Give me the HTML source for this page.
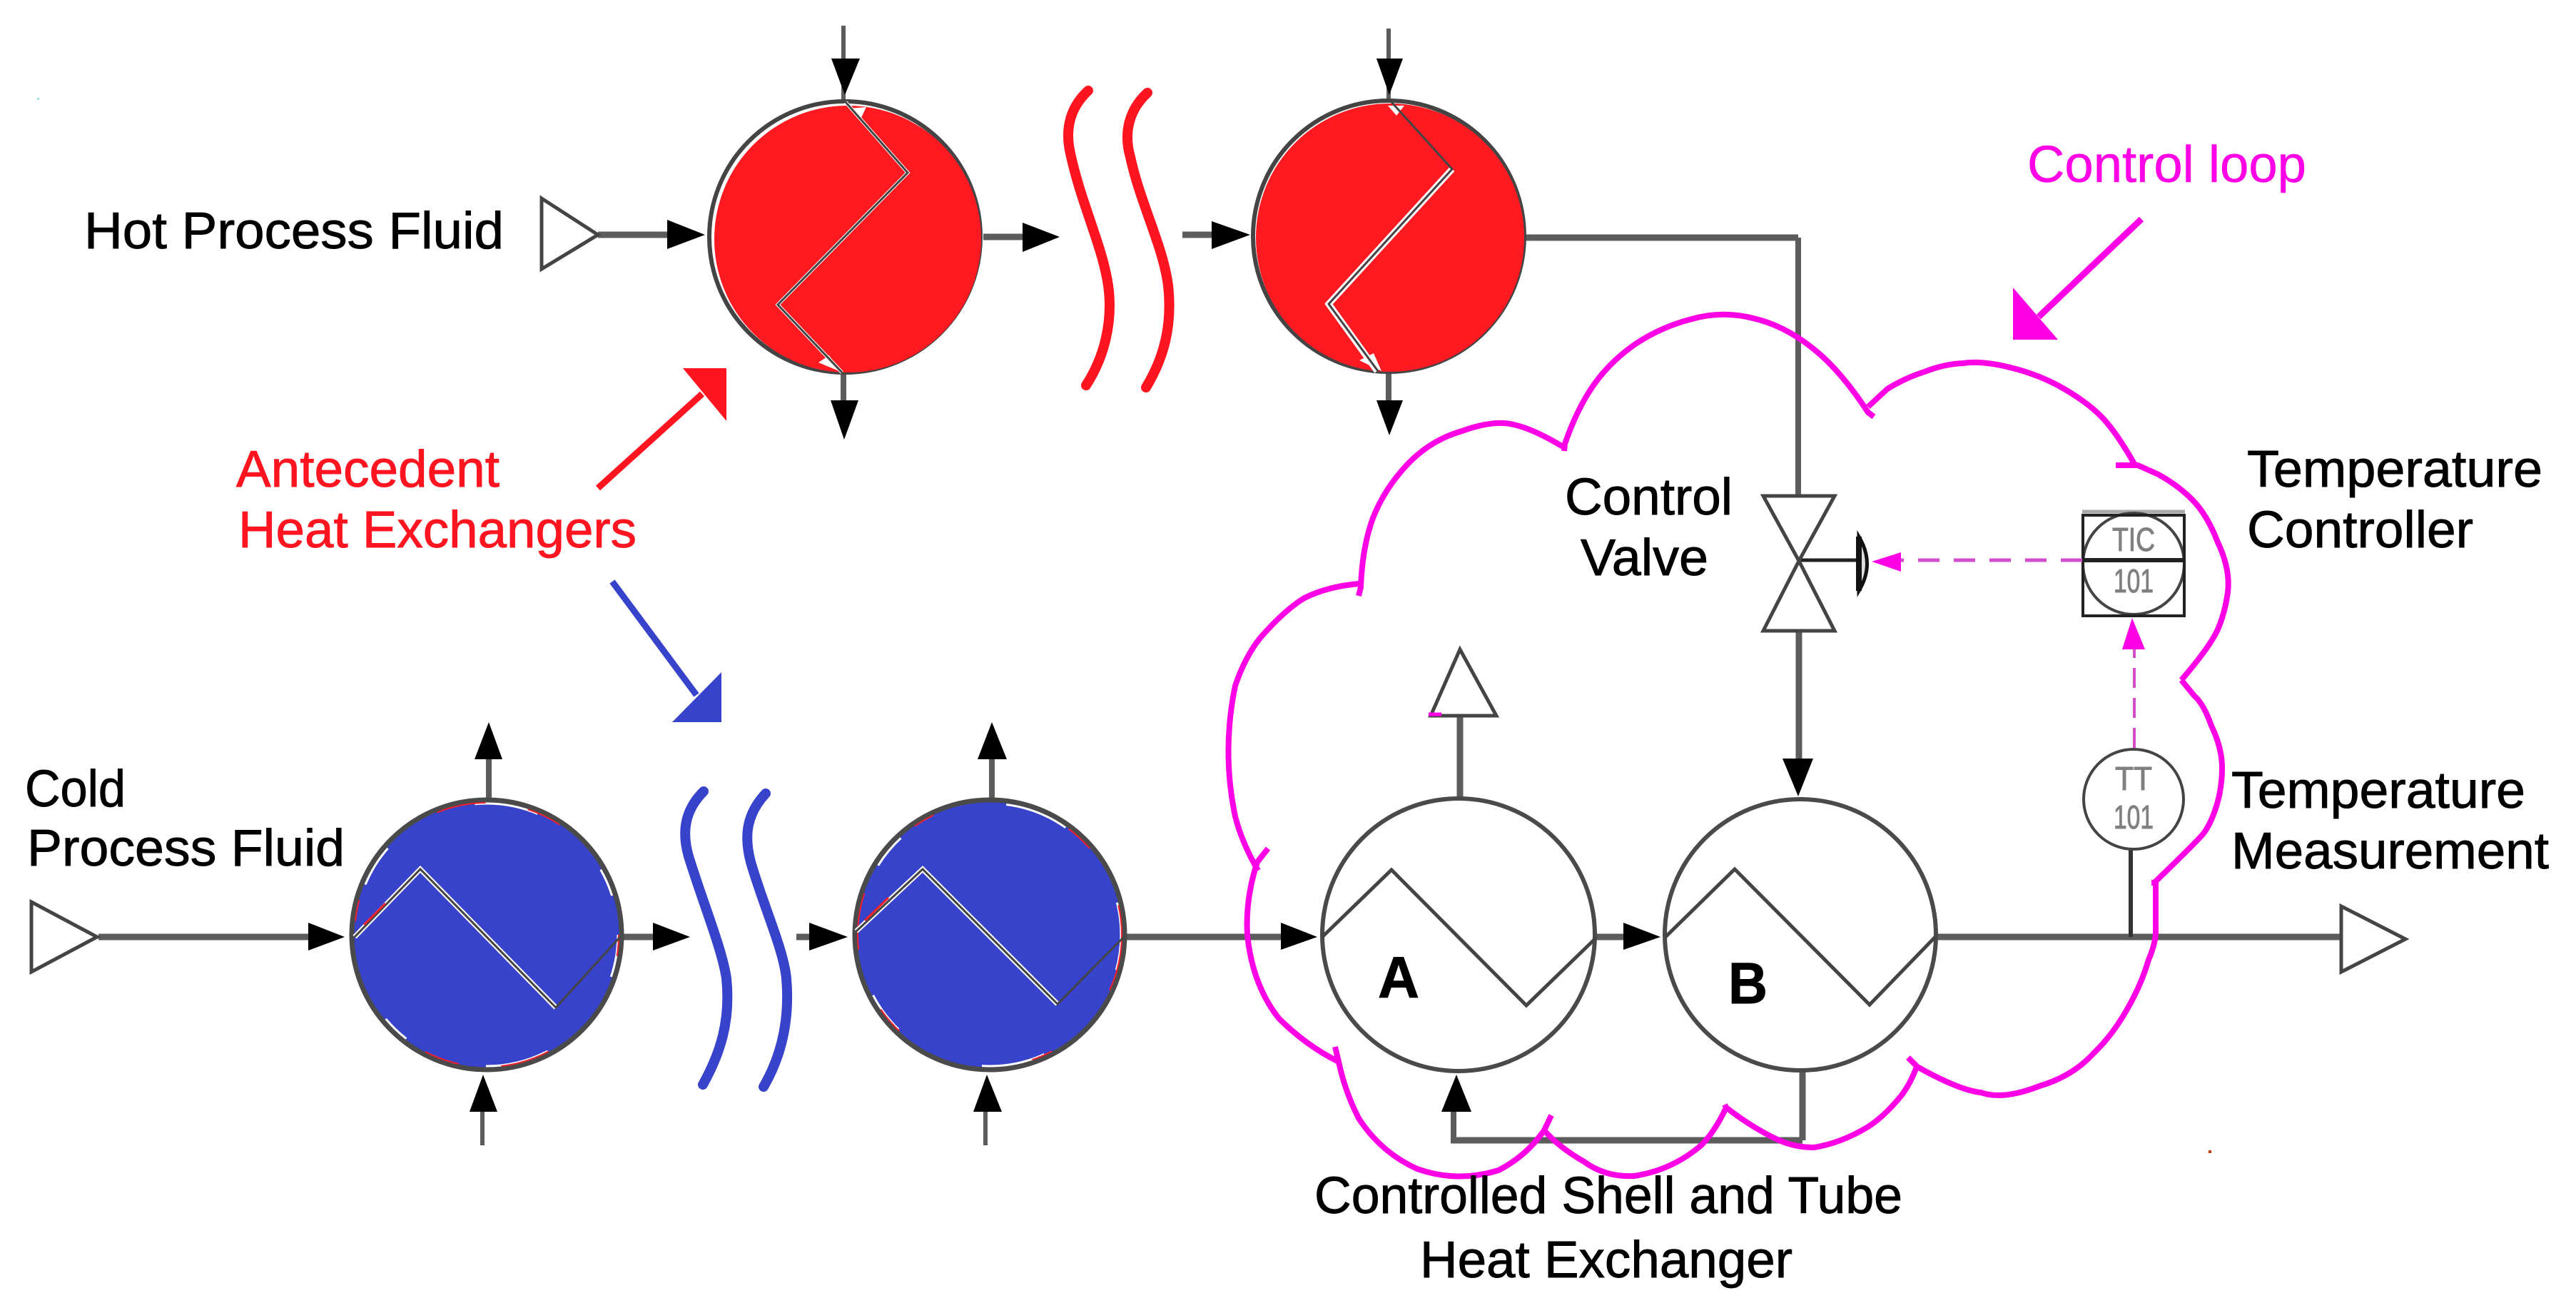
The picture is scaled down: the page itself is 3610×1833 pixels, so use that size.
<!DOCTYPE html>
<html><head><meta charset="utf-8"><style>
html,body{margin:0;padding:0;background:#fff}
svg{display:block}
text{font-family:"Liberation Sans",sans-serif;font-size:72px;fill:#000;stroke:#000;stroke-width:.9}
text.r{fill:#ff1420;stroke:#ff1420}
text.m{fill:#ff00e6;stroke:#ff00e6;stroke-width:.5}
.l{stroke:#5c5c5c;stroke-width:9;fill:none}
.t{stroke:#5c5c5c;stroke-width:8;fill:none}
.h{stroke:#4a4a4a;stroke-width:6;fill:#fff}
.z{stroke:#444;stroke-width:5;fill:none;stroke-linejoin:miter}
.w{stroke:#fff;stroke-width:6;fill:none}
text.g{font-size:46px;fill:#808080;stroke:#808080;stroke-width:1}
</style></head><body>
<svg xmlns="http://www.w3.org/2000/svg" width="3610" height="1833" viewBox="0 0 3610 1833">
<rect width="3610" height="1833" fill="#fff"/>

<!-- process lines -->
<g class="l">
<path d="M838 329H940"/><path d="M1378 332H1440"/><path d="M1657 329H1705"/>
<path d="M2138 333H2520"/>
<path d="M138 1313H440"/><path d="M871 1313H920"/><path d="M1116 1313H1140"/><path d="M1577 1313H1800"/>
<path d="M2236 1313H2280"/><path d="M2713 1313H3280"/>
<path d="M2526 1598H2033"/>
</g>
<g class="t">
<path d="M1182 36V140" style="stroke-width:6"/><path d="M1182 523V570"/><path d="M1946 40V140" style="stroke-width:6"/><path d="M1946 523V570"/>
<path d="M2520 333V694"/><path d="M2521 885V1070" style="stroke-width:9"/>
<path d="M685 1119V1060"/><path d="M676 1605V1550" style="stroke-width:6"/><path d="M1390 1119V1060"/><path d="M1381 1605V1550" style="stroke-width:6"/>
<path d="M2046 1117V1004" style="stroke-width:9"/><path d="M2526 1500V1598" style="stroke-width:9"/><path d="M2037 1598V1550"/>
<path d="M2986 1190V1313" style="stroke:#333;stroke-width:6"/><path d="M2522 785H2606" style="stroke:#222;stroke-width:5"/>
</g>

<!-- black arrowheads -->
<g fill="#000">
<polygon points="935,308 988,329 935,349"/>
<polygon points="1433,312 1485,332 1433,353"/>
<polygon points="1698,310 1752,329 1698,349"/>
<polygon points="432,1293 483,1313 432,1332"/>
<polygon points="915,1293 967,1313 915,1332"/>
<polygon points="1134,1293 1188,1313 1134,1332"/>
<polygon points="1795,1293 1846,1313 1795,1331"/>
<polygon points="2275,1293 2327,1313 2275,1331"/>
<polygon points="1165,82 1205,82 1184,133"/>
<polygon points="1929,82 1966,82 1947,133"/>
<polygon points="1164,561 1203,561 1183,616"/>
<polygon points="1929,561 1966,561 1947,610"/>
<polygon points="665,1064 704,1064 685,1012"/>
<polygon points="1370,1064 1411,1064 1390,1012"/>
<polygon points="658,1558 697,1558 677,1506"/>
<polygon points="1364,1558 1404,1558 1383,1506"/>
<polygon points="2020,1558 2062,1558 2041,1506"/>
<polygon points="2498,1063 2541,1063 2520,1116"/>
</g>

<!-- open triangles -->
<g fill="#fff" stroke="#444" stroke-width="5">
<polygon points="759,278 838,329 759,377"/>
<polygon points="44,1264 136,1313 44,1362"/>
<polygon points="3281,1270 3371,1316 3281,1362"/>
<polygon points="2005,1003 2097,1003 2046,910"/>
<polygon points="2471,695 2571,695 2521,786"/>
<polygon points="2471,884 2571,884 2521,786"/>
</g>
<path d="M2605 752Q2628 790 2605 828Z" fill="#ddd" stroke="#111" stroke-width="5"/>
<path d="M2605 752V828" stroke="#111" stroke-width="8"/>
<path d="M2002 1001H2020" stroke="#ff00e6" stroke-width="5"/>

<!-- red exchangers -->
<circle cx="1184" cy="332" r="190" fill="#fff" stroke="#444" stroke-width="6"/>
<circle cx="1188" cy="335" r="187" fill="#ff1a22"/>
<path d="M1190 152L1214 150L1206 167Z" fill="#fff"/>
<path d="M1147 508L1162 498L1176 520Z" fill="#fff"/>
<polyline class="w" style="stroke-width:5" points="1185,143 1272,242 1090,427 1180,522"/>
<polyline class="z" points="1185,143 1272,242 1090,427 1180,522" style="stroke-width:3"/>
<circle cx="1946" cy="331" r="190" fill="#fff" stroke="#444" stroke-width="6"/>
<circle cx="1948" cy="333" r="188" fill="#ff1a22"/>
<path d="M1945 148L1968 148L1957 162Z" fill="#fff"/>
<path d="M1905 505L1925 495L1936 520Z" fill="#fff"/>
<polyline class="w" style="stroke-width:9" points="2035,237 1862,426 1930,520"/>
<polyline class="z" points="1950,143 2035,237 1862,426 1931,520" style="stroke-width:3"/>

<!-- blue exchangers -->
<circle cx="682" cy="1310" r="189" fill="#3843cc" stroke="#4a4a4a" stroke-width="7"/>
<circle cx="682" cy="1310" r="184" fill="none" stroke="#fff" stroke-width="3" stroke-dasharray="60 140 90 120 40 200"/>
<circle cx="682" cy="1310" r="185" fill="none" stroke="#f02030" stroke-width="2" stroke-dasharray="30 170 70 60 50 220"/>
<polyline class="w" style="stroke-width:7" points="497,1313 589,1218 779,1412"/>
<polyline class="z" style="stroke-width:3" points="497,1313 589,1218 779,1412 869,1313"/>
<path d="M510 1296L540 1266" stroke="#f02030" stroke-width="3" fill="none"/>
<circle cx="1387" cy="1310" r="189" fill="#3843cc" stroke="#4a4a4a" stroke-width="7"/>
<circle cx="1387" cy="1310" r="184" fill="none" stroke="#fff" stroke-width="3" stroke-dasharray="50 160 90 130 60 190"/>
<circle cx="1387" cy="1310" r="185" fill="none" stroke="#f02030" stroke-width="2" stroke-dasharray="80 120 30 200 40 90"/>
<polyline class="w" style="stroke-width:7" points="1200,1305 1293,1218 1482,1407"/>
<polyline class="z" style="stroke-width:3" points="1200,1305 1293,1218 1482,1407 1575,1313"/>
<path d="M1212 1290L1245 1258" stroke="#f02030" stroke-width="3" fill="none"/>

<!-- white exchangers -->
<circle class="h" cx="2044" cy="1310" r="191"/>
<polyline class="z" points="1853,1313 1950,1219 2139,1409 2236,1315"/>
<circle class="h" cx="2523" cy="1310" r="190"/>
<polyline class="z" points="2334,1313 2431,1218 2620,1408 2712,1313"/>
<text x="1931" y="1398" style="font-weight:bold;font-size:82px" textLength="58" lengthAdjust="spacingAndGlyphs">A</text>
<text x="2422" y="1406" style="font-weight:bold;font-size:82px" textLength="55" lengthAdjust="spacingAndGlyphs">B</text>

<!-- squiggles -->
<g fill="none" stroke="#ff1420" stroke-width="14" stroke-linecap="round" stroke-linejoin="round">
<path d="M1525 127C1500 150 1492 180 1500 215C1515 285 1545 345 1553 400C1560 450 1548 500 1522 540"/>
<path d="M1608 130C1583 153 1574 185 1584 220C1598 285 1630 345 1637 400C1643 455 1632 500 1606 543"/>
</g>
<g fill="none" stroke="#3843cc" stroke-width="14" stroke-linecap="round" stroke-linejoin="round">
<path d="M986 1109C960 1135 955 1165 965 1200C985 1265 1012 1330 1018 1371C1024 1430 1010 1475 985 1520"/>
<path d="M1073 1112C1047 1140 1042 1170 1052 1208C1070 1270 1098 1330 1102 1371C1107 1430 1095 1480 1070 1523"/>
</g>

<!-- annotation arrows -->
<path d="M838 684L984 552" stroke="#ff1420" stroke-width="9" fill="none"/>
<polygon points="957,516 1018,516 1018,590" fill="#ff1420"/>
<path d="M858 815L976 974" stroke="#3843cc" stroke-width="9" fill="none"/>
<polygon points="1011,942 1011,1012 942,1012" fill="#3843cc"/>
<path d="M3001 307L2857 444" stroke="#ff00e6" stroke-width="9" fill="none"/>
<polygon points="2821,403 2821,476 2884,476" fill="#ff00e6"/>

<!-- instruments -->
<path d="M2918 717H3062" stroke="#aaa" stroke-width="5"/>
<rect x="2919" y="722" width="142" height="141" fill="#fff" stroke="#222" stroke-width="4"/>
<circle cx="2990" cy="790" r="71" fill="#fff" stroke="#444" stroke-width="4"/>
<rect x="2919" y="722" width="142" height="141" fill="none" stroke="#222" stroke-width="4"/>
<path d="M2918 785H3062" stroke="#222" stroke-width="6"/>
<text class="g" x="2960" y="772" textLength="60" lengthAdjust="spacingAndGlyphs">TIC</text>
<text class="g" x="2962" y="830" textLength="56" lengthAdjust="spacingAndGlyphs">101</text>
<circle cx="2990" cy="1120" r="70" fill="#fff" stroke="#444" stroke-width="4"/>
<text class="g" x="2964" y="1107" textLength="52" lengthAdjust="spacingAndGlyphs">TT</text>
<text class="g" x="2962" y="1161" textLength="56" lengthAdjust="spacingAndGlyphs">101</text>

<!-- signal lines -->
<path d="M2918 785H2664" stroke="#d24ccc" stroke-width="5" stroke-dasharray="30 20" fill="none"/>
<polygon points="2623,787 2664,774 2664,801" fill="#ff00e6"/>
<path d="M2991 1048V905" stroke="#d24ccc" stroke-width="4" stroke-dasharray="28 14" fill="none"/>
<polygon points="2988,866 2974,910 3006,910" fill="#ff00e6"/>

<!-- cloud -->
<g fill="none" stroke="#ff00e6" stroke-width="8" stroke-linejoin="round" stroke-linecap="butt">
<path d="M1904 835L1907 823Q1909 767 1924 726Q1940 685 1973 650Q2006 616 2049 604Q2093 588 2121 595Q2149 601 2192 627"/>
<path d="M2192 632L2193 622Q2210 573 2233 540Q2256 507 2292 482Q2328 458 2371 447Q2414 435 2457 446Q2500 456 2539 487Q2578 517 2618 578L2626 584"/>
<path d="M2618 570L2645 545Q2669 530 2697 521Q2725 510 2751 509Q2777 505 2817 515Q2858 525 2891 544Q2924 563 2944 583Q2965 604 2991 650"/>
<path d="M2965 652L2996 652L3025 665Q3052 680 3072 700Q3093 721 3108 760Q3126 798 3122 830Q3118 859 3108 882Q3098 905 3057 953"/>
<path d="M3057 953L3075 975Q3088 986 3099 1017Q3114 1048 3114 1076Q3114 1104 3106 1130Q3098 1155 3088 1168Q3078 1180 3019 1237" />
<path d="M3015 1237H3021V1300Q3022 1320 3011 1345Q3001 1380 2980 1416Q2960 1451 2934 1476Q2905 1508 2858 1522Q2807 1542 2776 1531Q2746 1528 2687 1495L2674 1482"/>
<path d="M2687 1492Q2678 1518 2664 1536Q2640 1565 2618 1579Q2580 1602 2542 1608Q2515 1608 2491 1597Q2455 1580 2419 1552L2417 1548"/>
<path d="M2420 1550Q2404 1585 2384 1605Q2343 1640 2290 1648Q2250 1650 2220 1628Q2185 1608 2164 1584"/>
<path d="M2174 1563L2164 1584Q2139 1620 2100 1640Q2042 1658 1986 1638Q1935 1615 1904 1567Q1885 1530 1876 1488L1871 1467"/>
<path d="M1876 1488Q1830 1465 1792 1427Q1755 1380 1748 1310Q1745 1260 1762 1208L1777 1189"/>
<path d="M1763 1220Q1740 1180 1731 1144Q1712 1053 1731 961Q1745 920 1766 894Q1800 855 1828 838Q1860 822 1904 818"/>
</g>
<rect x="3095" y="1612" width="4" height="4" fill="#c04010"/>
<rect x="52" y="137" width="3" height="3" fill="#9fe0e8"/>

<!-- labels -->
<g transform="translate(0,3)">
<text x="118" y="345" textLength="588" lengthAdjust="spacingAndGlyphs">Hot Process Fluid</text>
<text class="r" x="331" y="679" textLength="369" lengthAdjust="spacingAndGlyphs">Antecedent</text>
<text class="r" x="334" y="764" textLength="558" lengthAdjust="spacingAndGlyphs">Heat Exchangers</text>
<text x="35" y="1127" textLength="141" lengthAdjust="spacingAndGlyphs">Cold</text>
<text x="38" y="1210" textLength="445" lengthAdjust="spacingAndGlyphs">Process Fluid</text>
<text class="m" x="2841" y="252" textLength="391" lengthAdjust="spacingAndGlyphs">Control loop</text>
<text x="2193" y="718" textLength="235" lengthAdjust="spacingAndGlyphs">Control</text>
<text x="2215" y="803" textLength="179" lengthAdjust="spacingAndGlyphs">Valve</text>
<text x="3149" y="679" textLength="414" lengthAdjust="spacingAndGlyphs">Temperature</text>
<text x="3149" y="764" textLength="317" lengthAdjust="spacingAndGlyphs">Controller</text>
<text x="3127" y="1129" textLength="412" lengthAdjust="spacingAndGlyphs">Temperature</text>
<text x="3127" y="1214" textLength="445" lengthAdjust="spacingAndGlyphs">Measurement</text>
<text x="1842" y="1697" textLength="824" lengthAdjust="spacingAndGlyphs">Controlled Shell and Tube</text>
<text x="1990" y="1787" textLength="522" lengthAdjust="spacingAndGlyphs">Heat Exchanger</text>
</g>
</svg>
</body></html>
